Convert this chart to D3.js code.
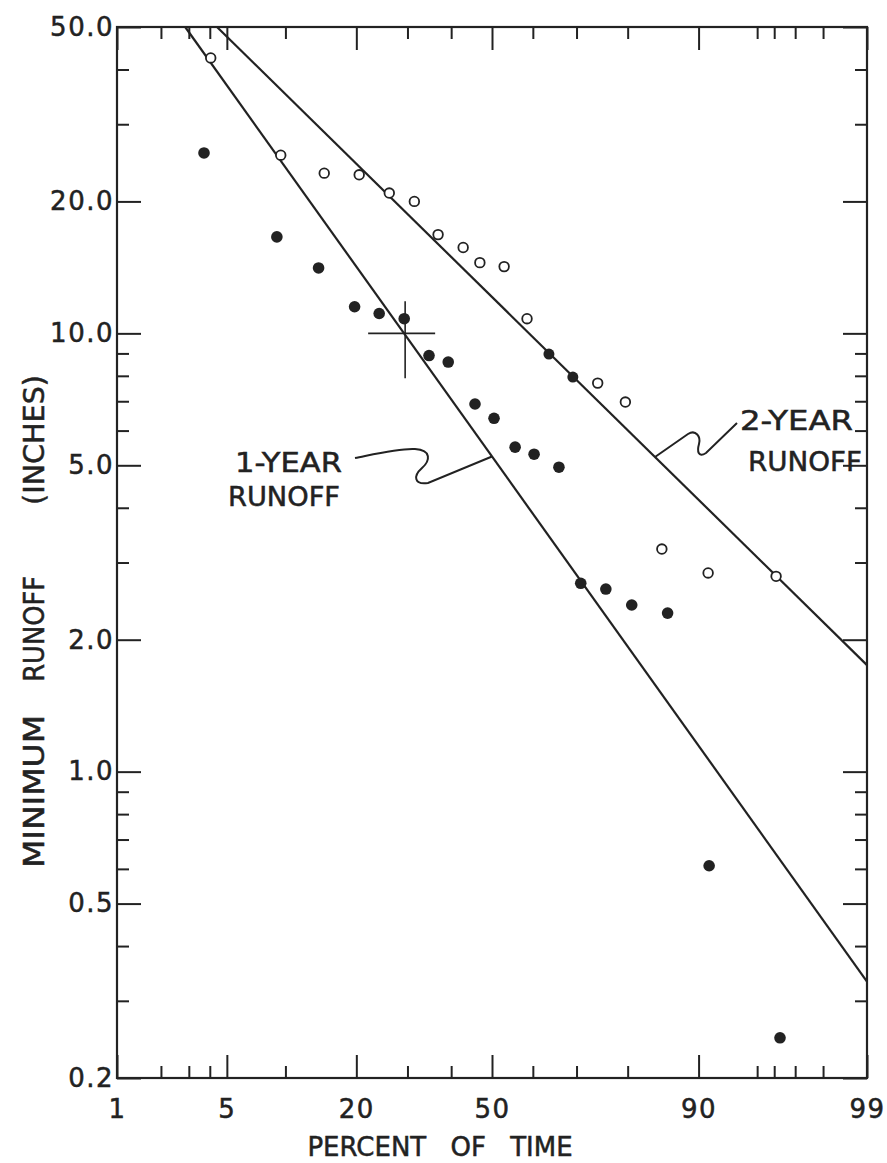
<!DOCTYPE html>
<html><head><meta charset="utf-8">
<script src="https://cdn.jsdelivr.net/npm/d3@7"></script>
<style>
html,body{margin:0;padding:0;background:#fff;}
svg{display:block;}
text{font-family:"DejaVu Sans",sans-serif;fill:#222;stroke:#222;stroke-width:0.5px;}
</style></head><body>
<svg id="chart" width="887" height="1163"></svg>
<script>
// ---------- data ----------
const xMajorTicks = [1, 5, 20, 50, 90, 99];
const xMajorLabels = ["1", "5", "20", "50", "90", "99"];
const xMinorTicks = [2, 3, 4, 10, 30, 40, 60, 70, 80, 95, 96, 97, 98];
const yMajorTicks = [50, 20, 10, 5, 2, 1, 0.5, 0.2];
const yMajorLabels = ["50.0", "20.0", "10.0", "5.0", "2.0", "1.0", "0.5", "0.2"];
const yMinorTicks = [40, 30, 9, 8, 7, 6, 4, 3, 0.9, 0.8, 0.7, 0.6, 0.4, 0.3];

// 1-year minimum runoff (solid dots)
const oneYearPct = [3.7, 9.1, 14.1, 19.7, 24.2, 29.3, 34.8, 39.3, 45.8, 50.5, 55.7, 60.3, 66.1, 70.9, 76.0, 80.7, 86.2, 91.1, 96.3];
const oneYearVal = [25.8, 16.6, 14.1, 11.5, 11.1, 10.8, 8.9, 8.6, 6.9, 6.4, 5.5, 5.3, 4.95, 2.69, 2.61, 2.40, 2.30, 0.61, 0.247];

// 2-year minimum runoff (open circles)
const twoYearPct = [4.05, 9.5, 14.9, 20.5, 26.2, 31.5, 36.9, 42.9, 47.0, 53.0, 58.6, 74.4, 79.6, 85.4, 91.0, 96.1];
const twoYearVal = [42.5, 25.5, 23.2, 23.0, 20.9, 20.0, 16.8, 15.7, 14.5, 14.2, 10.8, 7.7, 6.97, 3.22, 2.84, 2.79];
// 2-year points that appear solid (lying on the fitted line)
const twoYearSolidPct = [63.8, 69.2];
const twoYearSolidVal = [8.97, 7.95];

// fitted straight lines (end points)
const oneYearLinePct = [2.85, 99];
const oneYearLineVal = [50, 0.332];
const twoYearLinePct = [4.4, 99];
const twoYearLineVal = [50, 1.75];

// cross mark
const crossPct = [29.5];
const crossVal = [10.0];

// ---------- helpers ----------
function probit(p){
  const a=[-3.969683028665376e+01,2.209460984245205e+02,-2.759285104469687e+02,1.383577518672690e+02,-3.066479806614716e+01,2.506628277459239e+00];
  const b=[-5.447609879822406e+01,1.615858368580409e+02,-1.556989798598866e+02,6.680131188771972e+01,-1.328068155288572e+01];
  const c=[-7.784894002430293e-03,-3.223964580411365e-01,-2.400758277161838e+00,-2.549732539343734e+00,4.374664141464968e+00,2.938163982698783e+00];
  const d=[7.784695709041462e-03,3.224671290700398e-01,2.445134137142996e+00,3.754408661907416e+00];
  const pl=0.02425, ph=1-pl; let q,r;
  if(p<pl){q=Math.sqrt(-2*Math.log(p));return (((((c[0]*q+c[1])*q+c[2])*q+c[3])*q+c[4])*q+c[5])/((((d[0]*q+d[1])*q+d[2])*q+d[3])*q+1);}
  if(p<=ph){q=p-0.5;r=q*q;return (((((a[0]*r+a[1])*r+a[2])*r+a[3])*r+a[4])*r+a[5])*q/(((((b[0]*r+b[1])*r+b[2])*r+b[3])*r+b[4])*r+1);}
  q=Math.sqrt(-2*Math.log(1-p));return -(((((c[0]*q+c[1])*q+c[2])*q+c[3])*q+c[4])*q+c[5])/((((d[0]*q+d[1])*q+d[2])*q+d[3])*q+1);
}

const L = 117, R = 867, T = 27, B = 1078;
const ink = "#222";
const svg = d3.select("#chart");
svg.append("rect").attr("width",887).attr("height",1163).attr("fill","#fff");

const xLin = d3.scaleLinear().domain([probit(0.01), probit(0.99)]).range([L, R]);
const x = p => xLin(probit(p / 100));
const y = d3.scaleLog().domain([0.2, 50]).range([B, T]);

const pz = arr => arr.map(p => probit(p / 100));

function styleAxis(g){
  g.select(".domain").remove();
  g.selectAll(".tick line").attr("stroke", ink).attr("stroke-width", 2);
  g.selectAll(".tick text").attr("fill", ink).attr("font-family", '"DejaVu Sans", sans-serif')
    .attr("font-size", 26).attr("letter-spacing", 1.5);
}

// bottom
svg.append("g").attr("transform", `translate(0,${B})`)
  .call(d3.axisBottom(xLin).tickValues(pz(xMajorTicks)).tickSize(-23).tickPadding(22)
        .tickFormat((d, i) => xMajorLabels[i])).call(styleAxis);
svg.append("g").attr("transform", `translate(0,${B})`)
  .call(d3.axisBottom(xLin).tickValues(pz(xMinorTicks)).tickSize(-12).tickFormat("")).call(styleAxis);
// top
svg.append("g").attr("transform", `translate(0,${T})`)
  .call(d3.axisTop(xLin).tickValues(pz(xMajorTicks)).tickSize(-23).tickFormat("")).call(styleAxis);
svg.append("g").attr("transform", `translate(0,${T})`)
  .call(d3.axisTop(xLin).tickValues(pz(xMinorTicks)).tickSize(-12).tickFormat("")).call(styleAxis);
// left
svg.append("g").attr("transform", `translate(${L},0)`)
  .call(d3.axisLeft(y).tickValues(yMajorTicks).tickSize(-24).tickPadding(3)
        .tickFormat((d, i) => yMajorLabels[i])).call(styleAxis);
svg.append("g").attr("transform", `translate(${L},0)`)
  .call(d3.axisLeft(y).tickValues(yMinorTicks).tickSize(-12).tickFormat("")).call(styleAxis);
// right
svg.append("g").attr("transform", `translate(${R},0)`)
  .call(d3.axisRight(y).tickValues(yMajorTicks).tickSize(-24).tickFormat("")).call(styleAxis);
svg.append("g").attr("transform", `translate(${R},0)`)
  .call(d3.axisRight(y).tickValues(yMinorTicks).tickSize(-12).tickFormat("")).call(styleAxis);

// frame
svg.append("rect").attr("x", L).attr("y", T).attr("width", R - L).attr("height", B - T)
  .attr("fill", "none").attr("stroke", ink).attr("stroke-width", 2.2);

// fitted lines
function fitLine(pcts, vals){
  return svg.append("line")
    .attr("x1", x(pcts[0])).attr("y1", y(vals[0]))
    .attr("x2", x(pcts[1])).attr("y2", y(vals[1]))
    .attr("stroke", ink).attr("stroke-width", 2.2);
}
fitLine(oneYearLinePct, oneYearLineVal);
fitLine(twoYearLinePct, twoYearLineVal);

function pointOnLine(pcts, vals, px){
  const x1 = x(pcts[0]), y1 = y(vals[0]), x2 = x(pcts[1]), y2 = y(vals[1]);
  return [px, y1 + (y2 - y1) * (px - x1) / (x2 - x1)];
}

// cross
crossPct.forEach((p, i) => {
  const cx = x(p), cy = y(crossVal[i]);
  svg.append("line").attr("x1", cx - 37).attr("x2", cx + 30).attr("y1", cy).attr("y2", cy)
    .attr("stroke", ink).attr("stroke-width", 1.6);
  svg.append("line").attr("x1", cx).attr("x2", cx).attr("y1", cy - 32).attr("y2", cy + 45)
    .attr("stroke", ink).attr("stroke-width", 1.6);
});

// points
svg.append("g").selectAll("circle").data(d3.zip(twoYearPct, twoYearVal)).join("circle")
  .attr("cx", d => x(d[0])).attr("cy", d => y(d[1])).attr("r", 4.8)
  .attr("fill", "#fff").attr("stroke", ink).attr("stroke-width", 1.8);
svg.append("g").selectAll("circle").data(d3.zip(twoYearSolidPct, twoYearSolidVal)).join("circle")
  .attr("cx", d => x(d[0])).attr("cy", d => y(d[1])).attr("r", 5.5).attr("fill", ink);
svg.append("g").selectAll("circle").data(d3.zip(oneYearPct, oneYearVal)).join("circle")
  .attr("cx", d => x(d[0])).attr("cy", d => y(d[1])).attr("r", 5.8).attr("fill", ink);

// annotations
const a1 = pointOnLine(oneYearLinePct, oneYearLineVal, 492);
svg.append("path")
  .attr("d", `M355,458 C375,454 400,448 415,449 C432,450 430,461 422,468 C413,476 414,485 428,483 L${a1[0]},${a1[1]}`)
  .attr("fill", "none").attr("stroke", ink).attr("stroke-width", 2);
const a2 = pointOnLine(twoYearLinePct, twoYearLineVal, 655);
svg.append("path")
  .attr("d", `M${a2[0]},${a2[1]} L688,434 C696,429 701,437 699,444 C697,451 698,458 706,453 L737,423`)
  .attr("fill", "none").attr("stroke", ink).attr("stroke-width", 2);

function label(txt, xl, yb, len){
  svg.append("text").attr("x", xl).attr("y", yb).attr("font-size", 26)
    .attr("textLength", len).attr("lengthAdjust", "spacingAndGlyphs").text(txt);
}
label("1-YEAR", 235, 472, 107);
label("RUNOFF", 228, 506, 112);
label("2-YEAR", 740, 430, 113);
label("RUNOFF", 748, 471, 114);

// axis titles
svg.append("text").attr("x", 440).attr("y", 1156).attr("text-anchor", "middle")
  .attr("font-size", 26).attr("word-spacing", 16).text("PERCENT OF TIME");

const yt = svg.append("text").attr("transform", "translate(44,0) rotate(-90)").attr("font-size", 28);
[["MINIMUM", 868, 153], ["RUNOFF", 690, 114], ["(INCHES)", 514, 139]].forEach(([w, yStart, len], i) => {
  yt.append("tspan").attr("x", -yStart).attr("y", 0).attr("textLength", len)
    .attr("lengthAdjust", "spacingAndGlyphs").text((i ? " " : "") + w);
});
</script>
</body></html>
